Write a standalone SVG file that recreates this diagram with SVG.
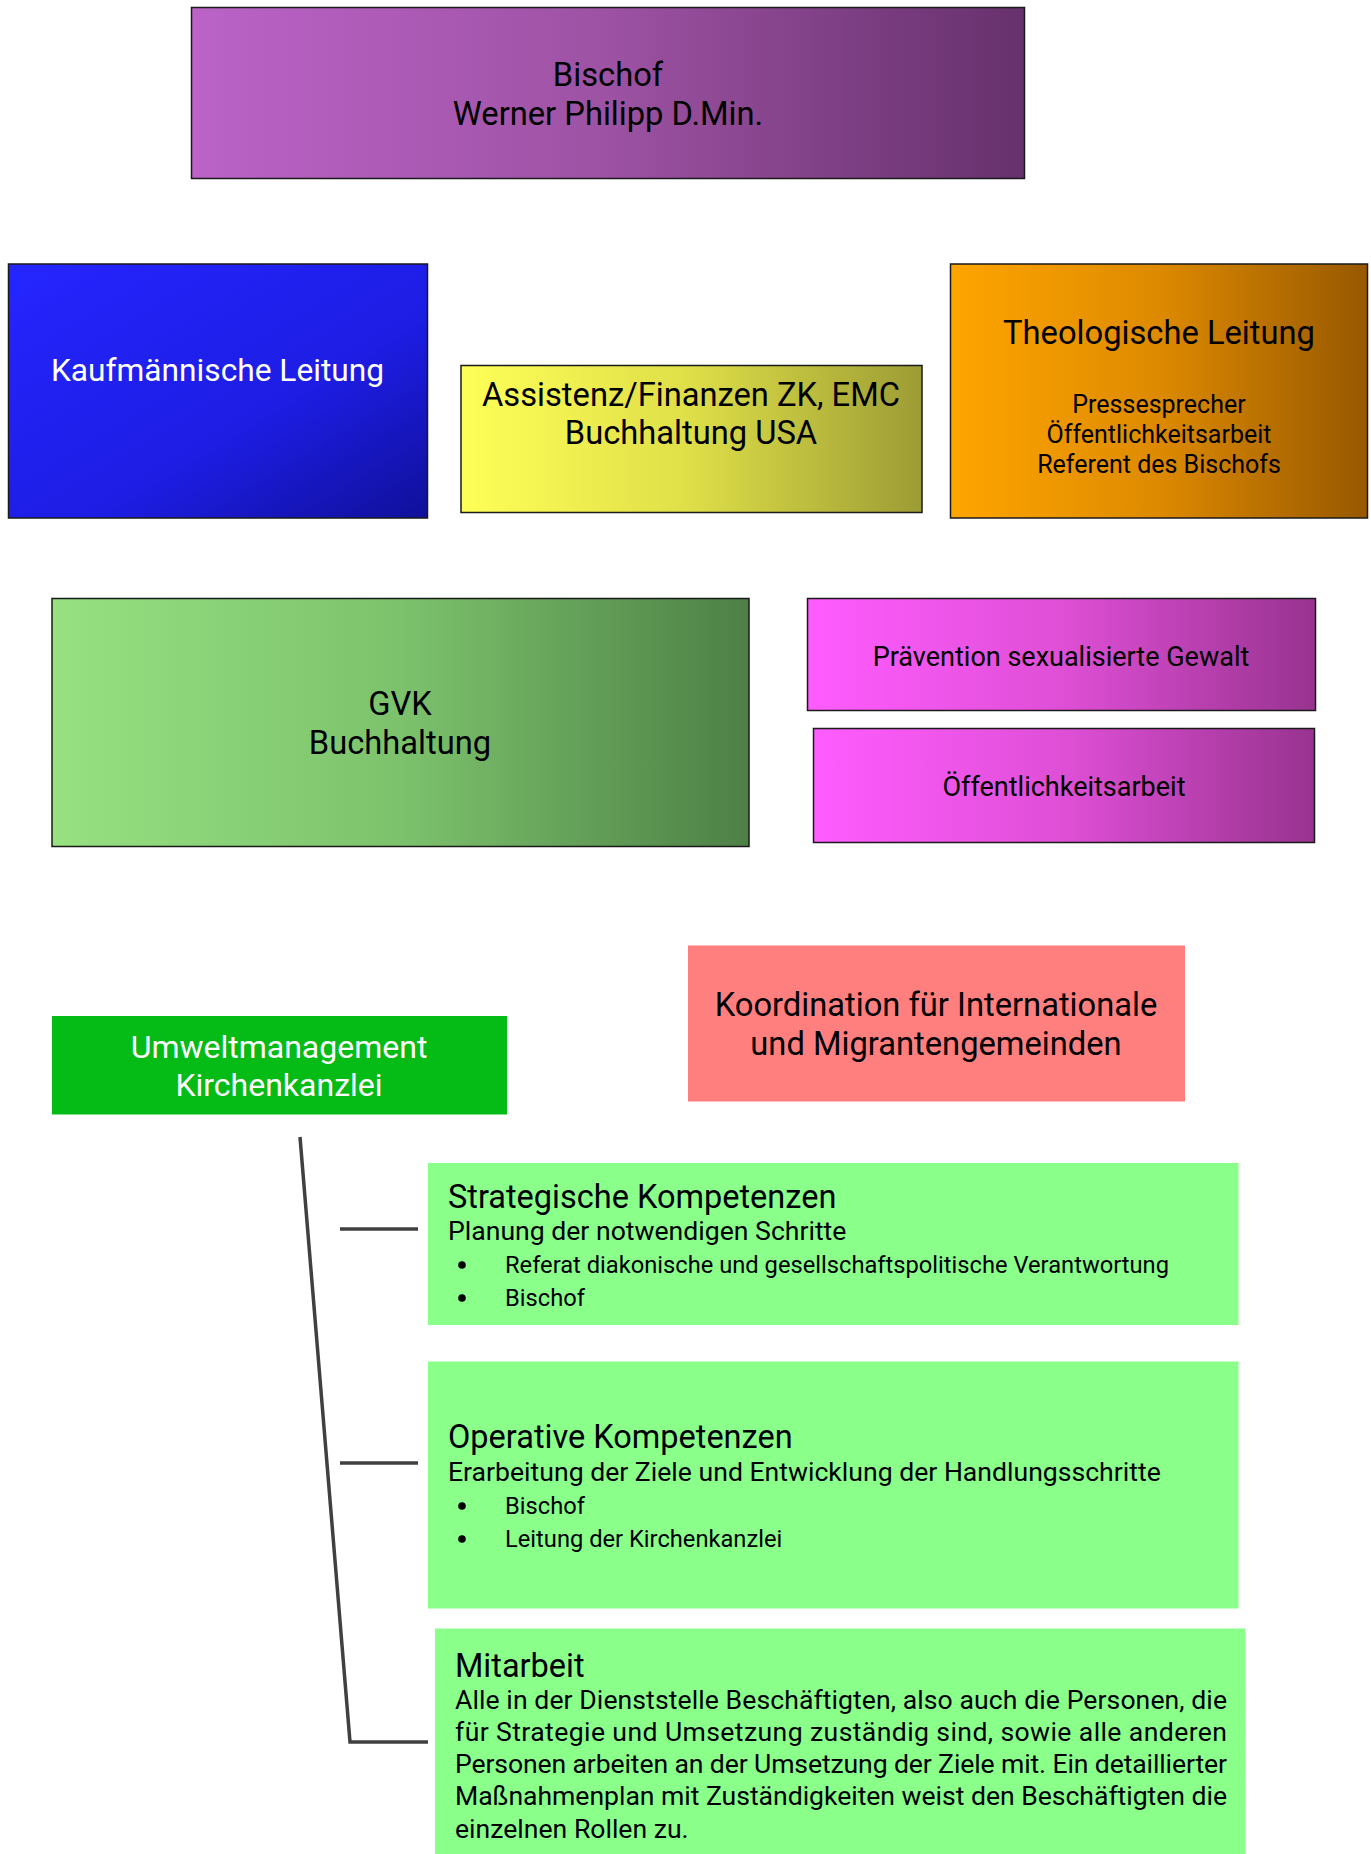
<svg xmlns="http://www.w3.org/2000/svg" width="1371" height="1854" viewBox="0 0 1371 1854">
<defs>
<linearGradient id="gBischof" x1="0" y1="0" x2="1" y2="0"><stop offset="0" stop-color="#bb63c8"/><stop offset="0.5" stop-color="#9d52a3"/><stop offset="1" stop-color="#66316c"/></linearGradient>
<linearGradient id="gKauf" x1="0" y1="0" x2="1" y2="1"><stop offset="0" stop-color="#2525ff"/><stop offset="0.6" stop-color="#1d1de4"/><stop offset="1" stop-color="#10109a"/></linearGradient>
<linearGradient id="gAssist" x1="0" y1="0" x2="1" y2="0"><stop offset="0" stop-color="#ffff58"/><stop offset="0.5" stop-color="#dede48"/><stop offset="1" stop-color="#9c9c35"/></linearGradient>
<linearGradient id="gTheo" x1="0" y1="0" x2="1" y2="0"><stop offset="0" stop-color="#ffa500"/><stop offset="0.5" stop-color="#dd8a00"/><stop offset="1" stop-color="#985800"/></linearGradient>
<linearGradient id="gGvk" x1="0" y1="0" x2="1" y2="0"><stop offset="0" stop-color="#97e181"/><stop offset="0.5" stop-color="#7cc26c"/><stop offset="1" stop-color="#4d8046"/></linearGradient>
<linearGradient id="gMag" x1="0" y1="0" x2="1" y2="0"><stop offset="0" stop-color="#ff5cff"/><stop offset="0.5" stop-color="#df4fd6"/><stop offset="1" stop-color="#98338f"/></linearGradient>
</defs>
<style>
text{font-family:Roboto,"Liberation Sans",sans-serif;}
.box{stroke:#1a1a1a;stroke-width:1.5;}
.c{text-anchor:middle;}
.t32{font-size:32.7px;}
.t31{font-size:31.7px;}
.t30{font-size:32px;}
.t27{font-size:27px;}
.t25{font-size:25px;}
.h{font-size:32.5px;}
.s{font-size:26.6px;}
.b{font-size:23.7px;}
.k{fill:#000;}
.w{fill:#fff;}
.con{stroke:#404040;stroke-width:3.5;fill:none;}
</style>
<rect width="1371" height="1854" fill="#fff"/>
<g id="bischof">
<rect class="box" x="191.5" y="7.5" width="833" height="171" fill="url(#gBischof)"/>
<text class="c t32 k" x="608" y="86">Bischof</text>
<text class="c t32 k" x="608" y="125">Werner Philipp D.Min.</text>
</g>
<g id="kaufmaennisch">
<rect class="box" x="8.5" y="264" width="419" height="254" fill="url(#gKauf)"/>
<text class="c t31 w" x="217.5" y="381">Kaufmännische Leitung</text>
</g>
<g id="assistenz">
<rect class="box" x="461" y="365.5" width="461" height="147" fill="url(#gAssist)"/>
<text class="c t32 k" x="691" y="406">Assistenz/Finanzen ZK, EMC</text>
<text class="c t32 k" x="691" y="444">Buchhaltung USA</text>
</g>
<g id="theologisch">
<rect class="box" x="950.5" y="264" width="417" height="254" fill="url(#gTheo)"/>
<text class="c t32 k" x="1159" y="343.5">Theologische Leitung</text>
<text class="c t25 k" x="1159" y="413">Pressesprecher</text>
<text class="c t25 k" x="1159" y="443">Öffentlichkeitsarbeit</text>
<text class="c t25 k" x="1159" y="473">Referent des Bischofs</text>
</g>
<g id="gvk">
<rect class="box" x="52" y="598.5" width="697" height="248" fill="url(#gGvk)"/>
<text class="c t32 k" x="400" y="714.5">GVK</text>
<text class="c t32 k" x="400" y="753.5">Buchhaltung</text>
</g>
<g id="praevention">
<rect class="box" x="807.5" y="598.5" width="508" height="112" fill="url(#gMag)"/>
<text class="c t27 k" x="1061" y="665.5">Prävention sexualisierte Gewalt</text>
</g>
<g id="oeffentlichkeit">
<rect class="box" x="813.5" y="728.5" width="501" height="114" fill="url(#gMag)"/>
<text class="c t27 k" x="1064" y="795.5">Öffentlichkeitsarbeit</text>
</g>
<g id="umwelt">
<rect x="52" y="1016" width="455" height="98.5" fill="#05bb15"/>
<text class="c t30 w" x="279" y="1058">Umweltmanagement</text>
<text class="c t30 w" x="279" y="1096">Kirchenkanzlei</text>
</g>
<g id="koordination">
<rect x="688" y="945.5" width="497" height="156" fill="#ff7f7f"/>
<text class="c t32 k" x="936" y="1016">Koordination für Internationale</text>
<text class="c t32 k" x="936" y="1055">und Migrantengemeinden</text>
</g>
<g id="strategisch">
<rect x="428" y="1163" width="810.5" height="162" fill="#8aff8a"/>
<text class="h k" x="448" y="1207.5">Strategische Kompetenzen</text>
<text class="s k" x="448" y="1239.5">Planung der notwendigen Schritte</text>
<circle cx="462" cy="1265" r="3.8" fill="#000"/>
<text class="b k" x="505" y="1273">Referat diakonische und gesellschaftspolitische Verantwortung</text>
<circle cx="462" cy="1298" r="3.8" fill="#000"/>
<text class="b k" x="505" y="1306">Bischof</text>
</g>
<g id="operativ">
<rect x="428" y="1361.5" width="810.5" height="247" fill="#8aff8a"/>
<text class="h k" x="448" y="1447.5">Operative Kompetenzen</text>
<text class="s k" x="448" y="1480.5">Erarbeitung der Ziele und Entwicklung der Handlungsschritte</text>
<circle cx="462" cy="1506" r="3.8" fill="#000"/>
<text class="b k" x="505" y="1514">Bischof</text>
<circle cx="462" cy="1539" r="3.8" fill="#000"/>
<text class="b k" x="505" y="1547">Leitung der Kirchenkanzlei</text>
</g>
<g id="mitarbeit">
<rect x="435" y="1628.5" width="810.5" height="226" fill="#8aff8a"/>
<text class="h k" x="455" y="1677">Mitarbeit</text>
<text class="s k" x="455" y="1709" textLength="772" lengthAdjust="spacing">Alle in der Dienststelle Beschäftigten, also auch die Personen, die</text>
<text class="s k" x="455" y="1741" textLength="772" lengthAdjust="spacing">für Strategie und Umsetzung zuständig sind, sowie alle anderen</text>
<text class="s k" x="455" y="1773" textLength="772" lengthAdjust="spacing">Personen arbeiten an der Umsetzung der Ziele mit. Ein detaillierter</text>
<text class="s k" x="455" y="1805" textLength="772" lengthAdjust="spacing">Maßnahmenplan mit Zuständigkeiten weist den Beschäftigten die</text>
<text class="s k" x="455" y="1837.5">einzelnen Rollen zu.</text>
</g>
<g id="connectors">
<polyline class="con" points="300,1137 350,1742 428,1742"/>
<line class="con" x1="340" y1="1229" x2="418" y2="1229"/>
<line class="con" x1="340" y1="1463" x2="418" y2="1463"/>
</g>
</svg>
